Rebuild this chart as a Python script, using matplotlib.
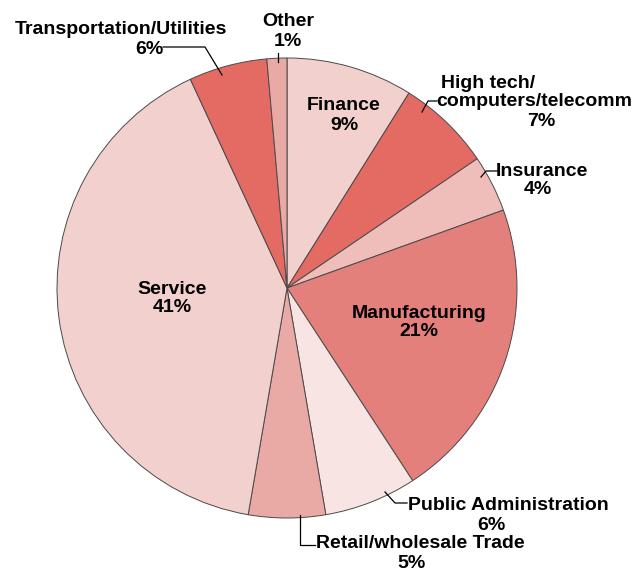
import matplotlib
matplotlib.use('Agg')
import matplotlib.pyplot as plt

# industry shares, clockwise from 12 o'clock
sectors = ['Finance', 'High tech/\ncomputers/telecomm', 'Insurance', 'Manufacturing',
           'Public Administration', 'Retail/wholesale Trade', 'Service',
           'Transportation/Utilities', 'Other']
shares = [8.9, 6.6, 4.0, 21.3, 6.5, 5.4, 40.4, 5.5, 1.4]
pct_labels = ['9%', '7%', '4%', '21%', '6%', '5%', '41%', '6%', '1%']
colors = ['#f2d0ce', '#e46a64', '#efbdba', '#e3807b', '#f8e4e2',
          '#e9aaa6', '#f2d0ce', '#e46a64', '#e9aaa6']

plt.rcParams['font.family'] = ['Liberation Sans', 'DejaVu Sans']

fig = plt.figure(figsize=(6.34, 5.75), dpi=100)
ax = fig.add_axes([0, 0, 1, 1])
ax.set_aspect('equal')

# y axis is inverted, so counterclock in data = clockwise on screen
ax.pie(shares, colors=colors, startangle=-90, counterclock=True,
       center=(287, 288), radius=230, frame=True,
       wedgeprops=dict(edgecolor='#4a4a4a', linewidth=0.7))
ax.set_xlim(0, 634)
ax.set_ylim(575, 0)
ax.axis('off')

fs = 14
tkw = dict(fontsize=fs, fontweight='bold', color='black', ha='center', va='center')
dy = 2  # small nudge so text sits like the original

def label(name, pct, x1, y1, x2, y2):
    ax.text(x1, y1 + dy, name, **tkw)
    ax.text(x2, y2 + dy, pct, **tkw)

label(sectors[0], pct_labels[0], 344, 103, 344, 123)
ax.text(488, 82 + dy, 'High tech/', **tkw)
ax.text(534, 100 + dy, 'computers/telecomm', **tkw)
ax.text(541, 119 + dy, pct_labels[1], **tkw)
label(sectors[2], pct_labels[2], 542, 170, 538, 188)
label(sectors[3], pct_labels[3], 419, 311, 419, 330)
label(sectors[4], pct_labels[4], 508, 503, 491, 523)
label(sectors[5], pct_labels[5], 420, 542, 412, 561)
label(sectors[6], pct_labels[6], 172, 287, 172, 306)
label(sectors[7], pct_labels[7], 121, 28, 149, 47)
label(sectors[8], pct_labels[8], 288, 19, 288, 39)

# leader lines
lk = dict(color='black', linewidth=0.9)
ax.plot([163, 205, 222], [47, 47, 75], **lk)
ax.plot([278, 278], [53, 62], **lk)
ax.plot([437, 428, 422], [101, 101, 112], **lk)
ax.plot([497, 486, 481], [171, 171, 177], **lk)
ax.plot([407, 395, 385], [503, 503, 492], **lk)
ax.plot([300, 300, 315], [515, 545, 545], **lk)

fig.savefig('out.png', dpi=100)
